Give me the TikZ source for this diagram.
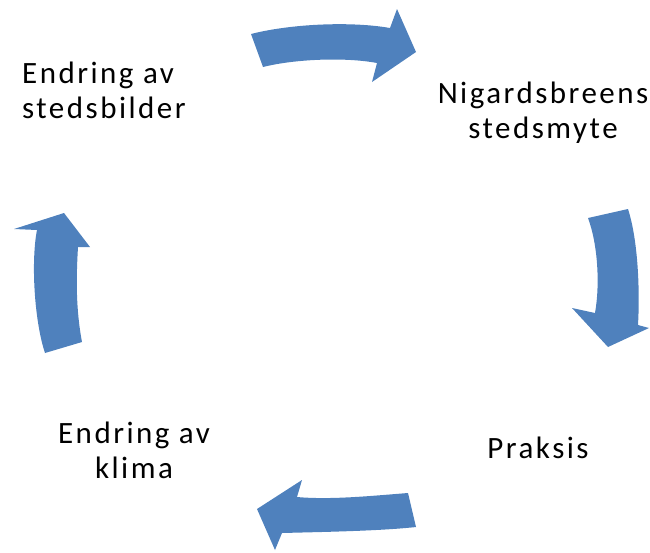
\documentclass[tikz,border=0pt]{standalone}
\usepackage{fontspec}
\setmainfont{Carlito}[LetterSpace=8]
\begin{document}
\begin{tikzpicture}[x=1pt,y=-1pt,
  cyclearrow/.style={fill=arrowblue,draw=none},
  lbl/.style={inner sep=0pt,font=\fontsize{31}{35}\selectfont,text=black}]
\definecolor{arrowblue}{HTML}{4F81BD}
\useasboundingbox (0,0) rectangle (650,552);
% top arrow
\fill[cyclearrow] (251,34) .. controls (290,24) and (350,21) .. (390,28)
  -- (397,9) -- (416,52) -- (372,82) -- (377,63)
  .. controls (345,57) and (295,59) .. (263,67) -- cycle;
% right arrow
\fill[cyclearrow] (588,218) -- (628,209) .. controls (638,240) and (640,290) .. (638,325)
  -- (649,328) -- (608,347) -- (572,308) -- (595,313)
  .. controls (600,285) and (598,245) .. (588,218) -- cycle;
% bottom arrow
\fill[cyclearrow] (408,493) -- (416,527) .. controls (380,531) and (320,532) .. (282,533)
  -- (275,550) -- (257,509) -- (302,480) -- (297,497)
  .. controls (330,500) and (370,496) .. (408,493) -- cycle;
% left arrow
\fill[cyclearrow] (45,353) -- (82,342) .. controls (76,310) and (76,280) .. (78,247)
  -- (90,247) -- (64,213) -- (14,229) -- (37,230)
  .. controls (31,260) and (34,320) .. (45,353) -- cycle;
% labels (base anchor = baseline of the last line)
\node[lbl,align=left,anchor=base west] (tl) at (22,118) {Endring av\\stedsbilder};
\node[lbl,align=center,anchor=base] (tr) at (543,138) {Nigardsbreens\\stedsmyte};
\node[lbl,align=center,anchor=base] (br) at (538,458) {Praksis};
\node[lbl,align=center,anchor=base] (bl) at (134,478) {Endring av\\klima};
\end{tikzpicture}
\end{document}
